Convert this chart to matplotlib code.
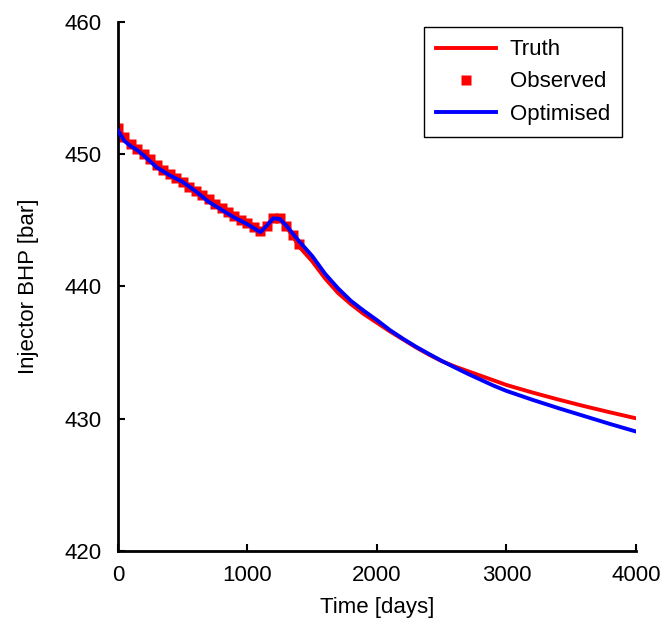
import matplotlib
matplotlib.use("Agg")
import matplotlib.pyplot as plt
import numpy as np

plt.rcParams['font.family'] = ['Liberation Sans', 'DejaVu Sans']

# time axis for the simulated curves (days)
t_sim = [0, 50, 100, 150, 200, 300, 400, 500, 600, 700, 800, 900, 1000, 1100,
         1150, 1200, 1250, 1300, 1350, 1400, 1500, 1600, 1700, 1800, 1900, 2000,
         2100, 2200, 2300, 2400, 2500, 2600, 2700, 2800, 2900, 3000, 3200, 3400,
         3600, 3800, 4000]

# truth BHP (bar)
p_truth = [452.0, 451.2, 450.7, 450.3, 449.9, 449.1, 448.4, 447.8, 447.1, 446.5,
           445.8, 445.3, 444.8, 444.2, 444.6, 445.2, 445.1, 444.5, 443.8, 443.0,
           441.9, 440.6, 439.5, 438.65, 437.9, 437.25, 436.6, 436.0, 435.4, 434.85,
           434.35, 433.95, 433.6, 433.25, 432.9, 432.55, 431.98, 431.45, 430.95,
           430.48, 430.03]

# optimised BHP (bar)
p_opt = [451.8, 451.0, 450.6, 450.3, 449.9, 449.0, 448.4, 447.9, 447.2, 446.4,
         445.8, 445.2, 444.7, 444.1, 444.6, 445.15, 445.1, 444.6, 444.0, 443.4,
         442.3, 440.95, 439.85, 438.9, 438.15, 437.45, 436.7, 436.05, 435.45, 434.9,
         434.37, 433.88, 433.4, 432.95, 432.5, 432.1, 431.43, 430.8, 430.2,
         429.6, 429.03]

# observed data
t_obs = np.arange(0, 1401, 50)
p_obs = [452.0, 451.3, 450.8, 450.4, 450.0, 449.6, 449.2, 448.8, 448.5, 448.2,
         447.9, 447.5, 447.2, 446.9, 446.6, 446.2, 445.9, 445.6, 445.3, 445.0,
         444.8, 444.5, 444.2, 444.6, 445.2, 445.2, 444.6, 443.9, 443.2]

fig = plt.figure(figsize=(6.66, 6.24), dpi=100)
ax = fig.add_axes([0.177, 0.117, 0.778, 0.848])

ax.plot(t_sim, p_truth, color='#ff0000', lw=2.8, label='Truth', zorder=2)
ax.plot(t_obs, p_obs, 's', color='#ff0000', ms=7.5, mec='none', label='Observed', zorder=1)
ax.plot(t_sim, p_opt, color='#0000ff', lw=2.8, label='Optimised', zorder=3)

ax.set_xlim(0, 4000)
ax.set_ylim(420, 460)
ax.set_xticks([0, 1000, 2000, 3000, 4000])
ax.set_yticks([420, 430, 440, 450, 460])
ax.spines['top'].set_visible(False)
ax.spines['right'].set_visible(False)
ax.spines['left'].set_linewidth(2)
ax.spines['bottom'].set_linewidth(2)
ax.tick_params(direction='in', length=5, width=1.5, labelsize=16)
ax.tick_params(axis='y', pad=12)
ax.tick_params(axis='x', pad=10)

ax.set_xlabel('Time [days]', fontsize=16, labelpad=8)
ax.set_ylabel('Injector BHP [bar]', fontsize=16, labelpad=18)

leg = ax.legend(loc='upper right', bbox_to_anchor=(0.973, 0.99), borderaxespad=0,
                fontsize=16, handlelength=2.7, fancybox=False, framealpha=1,
                borderpad=0.55, labelspacing=0.5, handletextpad=0.6)
leg.get_frame().set_edgecolor('black')
leg.get_frame().set_linewidth(1)

plt.savefig('out.png', dpi=100)
